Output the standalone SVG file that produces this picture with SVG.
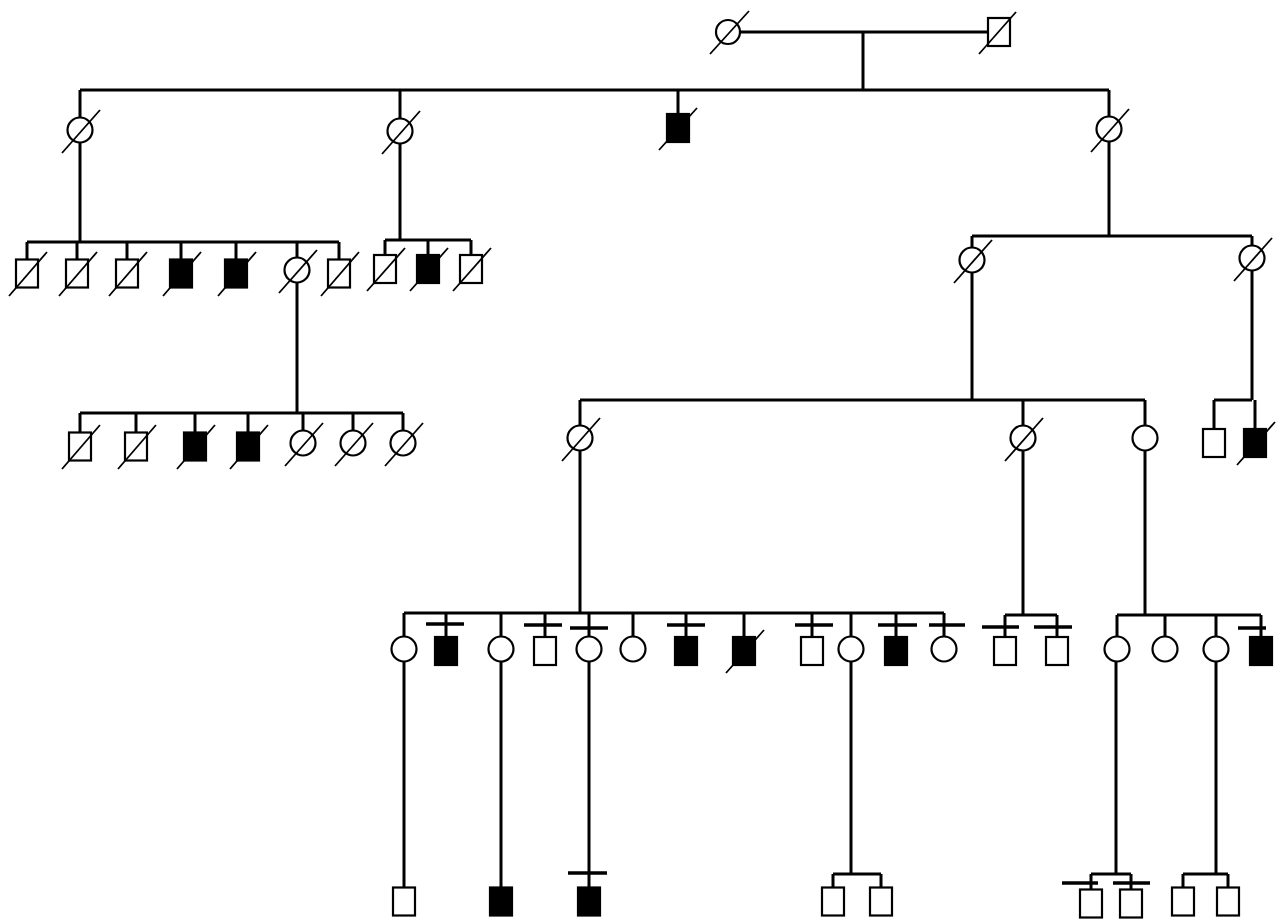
<svg xmlns="http://www.w3.org/2000/svg" width="1283" height="924" viewBox="0 0 1283 924">
<style>
.sym{fill:#fff;stroke:#000;stroke-width:2.2}
.aff{fill:#000;stroke:#000;stroke-width:2.2}
.dec{stroke:#000;stroke-width:1.8}
.bar{stroke:#000;stroke-width:3.5}
.conn{fill:none;stroke:#000;stroke-width:3}
</style>
<rect width="1283" height="924" fill="#fff"/>
<g id="connectors" class="conn">
<path d="M740 32H988M863 32V90"/>
<path d="M80 90H1109M80 90V117.5M400 90V118.5M678 90V114M1109 90V116.5"/>
<path d="M80 142.5V242M27 242H339M27 242V259.5M77 242V259.5M127 242V259.5M181 242V259.5M236 242V259.5M297 242V257.5M339 242V259.5"/>
<path d="M400 143.5V240M385 240H471M385 240V255M428 240V255M471 240V255"/>
<path d="M297 282.5V413M80 413H403M80 413V432.5M136 413V432.5M195 413V432.5M248 413V432.5M303 413V430.5M353 413V430.5M403 413V430.5"/>
<path d="M1109 141.5V236M972 236H1252M972 236V247.5M1252 236V245.5"/>
<path d="M972 272.5V400M580 400H1145M580 400V425.5M1023 400V425.5M1145 400V425.5"/>
<path d="M1252 270.5V400M1214 400H1252M1214 400V429M1255 400V429"/>
<path d="M580 450.5V613M404 613H944M404 613V636.5M446 613V637M501 613V636.5M545 613V637M589 613V636.5M633 613V636.5M686 613V637M744 613V637M812 613V637M851 613V636.5M896 613V637M944 613V636.5"/>
<path d="M1023 450.5V615M1005 615H1057M1005 615V637M1057 615V637"/>
<path d="M1145 450.5V615M1117 615H1261M1117 615V636.5M1165 615V636.5M1216 615V636.5M1261 615V637"/>
<path d="M404 661.5V887.5M501 661.5V887.5M589 661.5V887.5"/>
<path d="M851 661.5V874M833 874H881M833 874V887.5M881 874V887.5"/>
<path d="M1116 661.5V874M1091 874H1131M1091 874V889.5M1131 874V889.5"/>
<path d="M1216 661.5V874M1183 874H1228M1183 874V887.5M1228 874V887.5"/>
</g>
<!-- Generation I -->
<g id="I-1"><ellipse class="sym" cx="728" cy="32" rx="12" ry="12"/><line class="dec" x1="710" y1="54" x2="749" y2="11"/></g>
<g id="I-2"><rect class="sym" x="988" y="18" width="22" height="28"/><line class="dec" x1="979" y1="54" x2="1016" y2="12"/></g>
<!-- Generation II -->
<g id="II-1"><ellipse class="sym" cx="80" cy="130" rx="12.5" ry="12.5"/><line class="dec" x1="62" y1="153" x2="100" y2="110"/></g>
<g id="II-2"><ellipse class="sym" cx="400" cy="131" rx="12.5" ry="12.5"/><line class="dec" x1="382" y1="154" x2="420" y2="111"/></g>
<g id="II-3"><rect class="aff" x="667" y="114" width="22" height="28"/><line class="dec" x1="659" y1="150" x2="697" y2="108"/></g>
<g id="II-4"><ellipse class="sym" cx="1109" cy="129" rx="12.5" ry="12.5"/><line class="dec" x1="1091" y1="152" x2="1129" y2="109"/></g>
<!-- Generation III -->
<g id="III-1"><rect class="sym" x="16" y="259.5" width="22" height="28"/><line class="dec" x1="9" y1="296" x2="47" y2="252"/></g>
<g id="III-2"><rect class="sym" x="66" y="259.5" width="22" height="28"/><line class="dec" x1="59" y1="296" x2="97" y2="252"/></g>
<g id="III-3"><rect class="sym" x="116" y="259.5" width="22" height="28"/><line class="dec" x1="109" y1="296" x2="147" y2="252"/></g>
<g id="III-4"><rect class="aff" x="170" y="259.5" width="22" height="28"/><line class="dec" x1="163" y1="296" x2="201" y2="252"/></g>
<g id="III-5"><rect class="aff" x="225" y="259.5" width="22" height="28"/><line class="dec" x1="218" y1="296" x2="256" y2="252"/></g>
<g id="III-6"><ellipse class="sym" cx="297" cy="270" rx="12.5" ry="12.5"/><line class="dec" x1="279" y1="293" x2="317" y2="250"/></g>
<g id="III-7"><rect class="sym" x="328" y="259.5" width="22" height="28"/><line class="dec" x1="321" y1="296" x2="359" y2="252"/></g>
<g id="III-8"><rect class="sym" x="374" y="255" width="22" height="28"/><line class="dec" x1="367" y1="291" x2="405" y2="248"/></g>
<g id="III-9"><rect class="aff" x="417" y="255" width="22" height="28"/><line class="dec" x1="410" y1="291" x2="448" y2="248"/></g>
<g id="III-10"><rect class="sym" x="460" y="255" width="22" height="28"/><line class="dec" x1="453" y1="291" x2="491" y2="248"/></g>
<g id="III-11"><ellipse class="sym" cx="972" cy="260" rx="12.5" ry="12.5"/><line class="dec" x1="954" y1="283" x2="992" y2="240"/></g>
<g id="III-12"><ellipse class="sym" cx="1252" cy="258" rx="12.5" ry="12.5"/><line class="dec" x1="1234" y1="281" x2="1272" y2="238"/></g>
<!-- Generation IV -->
<g id="IV-1"><rect class="sym" x="69" y="432.5" width="22" height="28"/><line class="dec" x1="62" y1="469" x2="100" y2="425"/></g>
<g id="IV-2"><rect class="sym" x="125" y="432.5" width="22" height="28"/><line class="dec" x1="118" y1="469" x2="156" y2="425"/></g>
<g id="IV-3"><rect class="aff" x="184" y="432.5" width="22" height="28"/><line class="dec" x1="177" y1="469" x2="215" y2="425"/></g>
<g id="IV-4"><rect class="aff" x="237" y="432.5" width="22" height="28"/><line class="dec" x1="230" y1="469" x2="268" y2="425"/></g>
<g id="IV-5"><ellipse class="sym" cx="303" cy="443" rx="12.5" ry="12.5"/><line class="dec" x1="285" y1="466" x2="323" y2="423"/></g>
<g id="IV-6"><ellipse class="sym" cx="353" cy="443" rx="12.5" ry="12.5"/><line class="dec" x1="335" y1="466" x2="373" y2="423"/></g>
<g id="IV-7"><ellipse class="sym" cx="403" cy="443" rx="12.5" ry="12.5"/><line class="dec" x1="385" y1="466" x2="423" y2="423"/></g>
<g id="IV-8"><ellipse class="sym" cx="580" cy="438" rx="12.5" ry="12.5"/><line class="dec" x1="562" y1="461" x2="600" y2="418"/></g>
<g id="IV-9"><ellipse class="sym" cx="1023" cy="438" rx="12.5" ry="12.5"/><line class="dec" x1="1005" y1="461" x2="1043" y2="418"/></g>
<g id="IV-10"><ellipse class="sym" cx="1145" cy="438" rx="12.5" ry="12.5"/></g>
<g id="IV-11"><rect class="sym" x="1203" y="429" width="22" height="28"/></g>
<g id="IV-12"><rect class="aff" x="1244" y="429" width="22" height="28"/><line class="dec" x1="1237" y1="465" x2="1275" y2="422"/></g>
<!-- Generation V -->
<g id="V-1"><ellipse class="sym" cx="404" cy="649" rx="12.5" ry="12.5"/></g>
<g id="V-2"><rect class="aff" x="435" y="637" width="22" height="28"/><line class="bar" x1="426" y1="624" x2="464" y2="624"/></g>
<g id="V-3"><ellipse class="sym" cx="501" cy="649" rx="12.5" ry="12.5"/></g>
<g id="V-4"><rect class="sym" x="534" y="637" width="22" height="28"/><line class="bar" x1="524" y1="625" x2="562" y2="625"/></g>
<g id="V-5"><ellipse class="sym" cx="589" cy="649" rx="12.5" ry="12.5"/><line class="bar" x1="570" y1="628" x2="608" y2="628"/></g>
<g id="V-6"><ellipse class="sym" cx="633" cy="649" rx="12.5" ry="12.5"/></g>
<g id="V-7"><rect class="aff" x="675" y="637" width="22" height="28"/><line class="bar" x1="667" y1="625" x2="705" y2="625"/></g>
<g id="V-8"><rect class="aff" x="733" y="637" width="22" height="28"/><line class="dec" x1="726" y1="673" x2="764" y2="630"/></g>
<g id="V-9"><rect class="sym" x="801" y="637" width="22" height="28"/><line class="bar" x1="795" y1="625" x2="833" y2="625"/></g>
<g id="V-10"><ellipse class="sym" cx="851" cy="649" rx="12.5" ry="12.5"/></g>
<g id="V-11"><rect class="aff" x="885" y="637" width="22" height="28"/><line class="bar" x1="878" y1="625" x2="917" y2="625"/></g>
<g id="V-12"><ellipse class="sym" cx="944" cy="649" rx="12.5" ry="12.5"/><line class="bar" x1="929" y1="625" x2="965" y2="625"/></g>
<g id="V-13"><rect class="sym" x="994" y="637" width="22" height="28"/><line class="bar" x1="982" y1="627" x2="1019" y2="627"/></g>
<g id="V-14"><rect class="sym" x="1046" y="637" width="22" height="28"/><line class="bar" x1="1034" y1="627" x2="1072" y2="627"/></g>
<g id="V-15"><ellipse class="sym" cx="1117" cy="649" rx="12.5" ry="12.5"/></g>
<g id="V-16"><ellipse class="sym" cx="1165" cy="649" rx="12.5" ry="12.5"/></g>
<g id="V-17"><ellipse class="sym" cx="1216" cy="649" rx="12.5" ry="12.5"/></g>
<g id="V-18"><rect class="aff" x="1250" y="637" width="22" height="28"/><line class="bar" x1="1238" y1="628" x2="1266" y2="628"/></g>
<!-- Generation VI -->
<g id="VI-1"><rect class="sym" x="393" y="887.5" width="22" height="28"/></g>
<g id="VI-2"><rect class="aff" x="490" y="887.5" width="22" height="28"/></g>
<g id="VI-3"><rect class="aff" x="578" y="887.5" width="22" height="28"/><line class="bar" x1="568" y1="873" x2="607" y2="873"/></g>
<g id="VI-4"><rect class="sym" x="822" y="887.5" width="22" height="28"/></g>
<g id="VI-5"><rect class="sym" x="870" y="887.5" width="22" height="28"/></g>
<g id="VI-6"><rect class="sym" x="1080" y="889.5" width="22" height="28"/><line class="bar" x1="1062" y1="883" x2="1098" y2="883"/></g>
<g id="VI-7"><rect class="sym" x="1120" y="889.5" width="22" height="28"/><line class="bar" x1="1113" y1="883" x2="1150" y2="883"/></g>
<g id="VI-8"><rect class="sym" x="1172" y="887.5" width="22" height="28"/></g>
<g id="VI-9"><rect class="sym" x="1217" y="887.5" width="22" height="28"/></g>
</svg>
